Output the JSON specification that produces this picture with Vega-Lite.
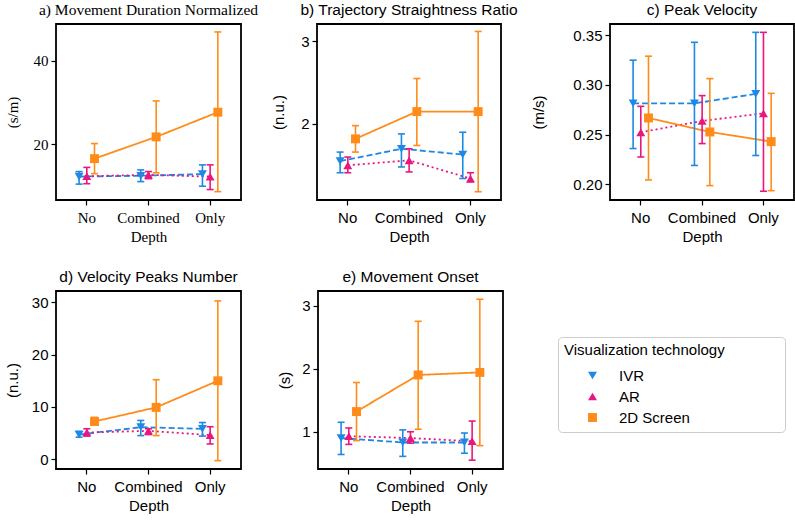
{
"$schema":"https://vega.github.io/schema/vega-lite/v6.json",
"padding":{"left":4,"top":1,"right":2,"bottom":5},
"background":"white",
"data":{"values":[
{"p":"a","depth":"No","tech":"IVR","m":12.3,"lo":10.5,"hi":13.5},
{"p":"a","depth":"Combined","tech":"IVR","m":12.5,"lo":11.1,"hi":13.9},
{"p":"a","depth":"Only","tech":"IVR","m":12.9,"lo":10.0,"hi":15.1},
{"p":"a","depth":"No","tech":"AR","m":12.4,"lo":10.6,"hi":14.5},
{"p":"a","depth":"Combined","tech":"AR","m":12.7,"lo":11.8,"hi":13.5},
{"p":"a","depth":"Only","tech":"AR","m":12.3,"lo":9.2,"hi":15.1},
{"p":"a","depth":"No","tech":"2D Screen","m":16.6,"lo":13.0,"hi":20.2},
{"p":"a","depth":"Combined","tech":"2D Screen","m":21.8,"lo":13.2,"hi":30.4},
{"p":"a","depth":"Only","tech":"2D Screen","m":27.7,"lo":8.7,"hi":46.9},
{"p":"b","depth":"No","tech":"IVR","m":1.55,"lo":1.41,"hi":1.66},
{"p":"b","depth":"Combined","tech":"IVR","m":1.70,"lo":1.48,"hi":1.88},
{"p":"b","depth":"Only","tech":"IVR","m":1.63,"lo":1.34,"hi":1.90},
{"p":"b","depth":"No","tech":"AR","m":1.50,"lo":1.41,"hi":1.60},
{"p":"b","depth":"Combined","tech":"AR","m":1.56,"lo":1.42,"hi":1.70},
{"p":"b","depth":"Only","tech":"AR","m":1.34,"lo":1.30,"hi":1.41},
{"p":"b","depth":"No","tech":"2D Screen","m":1.82,"lo":1.66,"hi":1.98},
{"p":"b","depth":"Combined","tech":"2D Screen","m":2.15,"lo":1.74,"hi":2.55},
{"p":"b","depth":"Only","tech":"2D Screen","m":2.15,"lo":1.18,"hi":3.12},
{"p":"c","depth":"No","tech":"IVR","m":0.2815,"lo":0.236,"hi":0.325},
{"p":"c","depth":"Combined","tech":"IVR","m":0.2815,"lo":0.219,"hi":0.343},
{"p":"c","depth":"Only","tech":"IVR","m":0.291,"lo":0.229,"hi":0.353},
{"p":"c","depth":"No","tech":"AR","m":0.2524,"lo":0.2275,"hi":0.2785},
{"p":"c","depth":"Combined","tech":"AR","m":0.2638,"lo":0.241,"hi":0.2893},
{"p":"c","depth":"Only","tech":"AR","m":0.2715,"lo":0.193,"hi":0.353},
{"p":"c","depth":"No","tech":"2D Screen","m":0.2668,"lo":0.2044,"hi":0.329},
{"p":"c","depth":"Combined","tech":"2D Screen","m":0.2527,"lo":0.1987,"hi":0.3064},
{"p":"c","depth":"Only","tech":"2D Screen","m":0.243,"lo":0.1936,"hi":0.2916},
{"p":"d","depth":"No","tech":"IVR","m":4.7,"lo":4.2,"hi":5.3},
{"p":"d","depth":"Combined","tech":"IVR","m":6.1,"lo":4.5,"hi":7.4},
{"p":"d","depth":"Only","tech":"IVR","m":5.8,"lo":4.4,"hi":7.0},
{"p":"d","depth":"No","tech":"AR","m":5.1,"lo":4.4,"hi":5.8},
{"p":"d","depth":"Combined","tech":"AR","m":5.4,"lo":4.7,"hi":5.8},
{"p":"d","depth":"Only","tech":"AR","m":4.6,"lo":2.9,"hi":6.2},
{"p":"d","depth":"No","tech":"2D Screen","m":7.2,"lo":6.6,"hi":8.0},
{"p":"d","depth":"Combined","tech":"2D Screen","m":9.9,"lo":4.5,"hi":15.2},
{"p":"d","depth":"Only","tech":"2D Screen","m":15.0,"lo":-0.3,"hi":30.3},
{"p":"e","depth":"No","tech":"IVR","m":0.90,"lo":0.64,"hi":1.15},
{"p":"e","depth":"Combined","tech":"IVR","m":0.83,"lo":0.61,"hi":1.03},
{"p":"e","depth":"Only","tech":"IVR","m":0.83,"lo":0.66,"hi":0.98},
{"p":"e","depth":"No","tech":"AR","m":0.93,"lo":0.80,"hi":1.06},
{"p":"e","depth":"Combined","tech":"AR","m":0.90,"lo":0.82,"hi":1.00},
{"p":"e","depth":"Only","tech":"AR","m":0.85,"lo":0.55,"hi":1.17},
{"p":"e","depth":"No","tech":"2D Screen","m":1.32,"lo":0.86,"hi":1.78},
{"p":"e","depth":"Combined","tech":"2D Screen","m":1.90,"lo":1.04,"hi":2.75},
{"p":"e","depth":"Only","tech":"2D Screen","m":1.94,"lo":0.78,"hi":3.10}
]},
"spacing":23,
"vconcat":[
{"spacing":11,"hconcat":[
{"width":185,"height":176,
"title":{"text":"a) Movement Duration Normalized","font":"Liberation Serif"},
"transform":[{"filter":"datum.p==='a'"}],
"encoding":{
"x":{"field":"depth","type":"nominal","sort":["No","Combined","Only"],"scale":{"paddingInner":0,"paddingOuter":0},"axis":{"title":"Depth","labelPadding":5,"labelFont":"Liberation Serif","titleFont":"Liberation Serif"}},
"xOffset":{"field":"tech","type":"nominal","sort":["IVR","AR","2D Screen"],"scale":{"type":"point","padding":0,"range":[23.1,38.5]}},
"color":{"field":"tech","type":"nominal","scale":{"domain":["IVR","AR","2D Screen"],"range":["#1e88e5","#e8177f","#ff8c1a"]},"legend":{"title":"Visualization technology\u00a0\u00a0\u00a0\u00a0\u00a0\u00a0\u00a0\u00a0\u00a0\u00a0\u00a0\u00a0\u00a0\u200b"}}
},
"layer":[
{"mark":{"type":"line","strokeWidth":1.8},"encoding":{"y":{"field":"m","type":"quantitative","scale":{"domain":[6.7,48.8],"nice":false,"zero":false},"axis":{"title":"(s/m)","values":[20,40],"format":"d","titlePadding":13,"labelFont":"Liberation Serif","titleFont":"Liberation Serif"}},"strokeDash":{"field":"tech","type":"nominal","scale":{"domain":["IVR","AR","2D Screen"],"range":[[6,3],[2,3],[1,0]]},"legend":null}}},
{"mark":{"type":"rule","strokeWidth":1.6},"encoding":{"y":{"field":"lo","type":"quantitative","scale":{"domain":[6.7,48.8],"nice":false,"zero":false}},"y2":{"field":"hi"}}},
{"mark":{"type":"tick","thickness":1.6,"size":7,"opacity":1},"encoding":{"y":{"field":"lo","type":"quantitative","scale":{"domain":[6.7,48.8],"nice":false,"zero":false}}}},
{"mark":{"type":"tick","thickness":1.6,"size":7,"opacity":1},"encoding":{"y":{"field":"hi","type":"quantitative","scale":{"domain":[6.7,48.8],"nice":false,"zero":false}}}},
{"mark":{"type":"point","filled":true,"size":80,"opacity":1},"encoding":{"y":{"field":"m","type":"quantitative","scale":{"domain":[6.7,48.8],"nice":false,"zero":false}},"shape":{"field":"tech","type":"nominal","scale":{"domain":["IVR","AR","2D Screen"],"range":["triangle-down","triangle-up","square"]},"legend":{"title":"Visualization technology\u00a0\u00a0\u00a0\u00a0\u00a0\u00a0\u00a0\u00a0\u00a0\u00a0\u00a0\u00a0\u00a0\u200b"}}}}
]},
{"width":184,"height":176,
"title":{"text":"b) Trajectory Straightness Ratio"},
"transform":[{"filter":"datum.p==='b'"}],
"encoding":{
"x":{"field":"depth","type":"nominal","sort":["No","Combined","Only"],"scale":{"paddingInner":0,"paddingOuter":0},"axis":{"title":"Depth","labelPadding":5}},
"xOffset":{"field":"tech","type":"nominal","sort":["IVR","AR","2D Screen"],"scale":{"type":"point","padding":0,"range":[23,38.3]}},
"color":{"field":"tech","type":"nominal","scale":{"domain":["IVR","AR","2D Screen"],"range":["#1e88e5","#e8177f","#ff8c1a"]},"legend":{"title":"Visualization technology\u00a0\u00a0\u00a0\u00a0\u00a0\u00a0\u00a0\u00a0\u00a0\u00a0\u00a0\u00a0\u00a0\u200b"}}
},
"layer":[
{"mark":{"type":"line","strokeWidth":1.8},"encoding":{"y":{"field":"m","type":"quantitative","scale":{"domain":[1.08,3.21],"nice":false,"zero":false},"axis":{"title":"(n.u.)","values":[2,3],"format":"d","titlePadding":14}},"strokeDash":{"field":"tech","type":"nominal","scale":{"domain":["IVR","AR","2D Screen"],"range":[[6,3],[2,3],[1,0]]},"legend":null}}},
{"mark":{"type":"rule","strokeWidth":1.6},"encoding":{"y":{"field":"lo","type":"quantitative","scale":{"domain":[1.08,3.21],"nice":false,"zero":false}},"y2":{"field":"hi"}}},
{"mark":{"type":"tick","thickness":1.6,"size":7,"opacity":1},"encoding":{"y":{"field":"lo","type":"quantitative","scale":{"domain":[1.08,3.21],"nice":false,"zero":false}}}},
{"mark":{"type":"tick","thickness":1.6,"size":7,"opacity":1},"encoding":{"y":{"field":"hi","type":"quantitative","scale":{"domain":[1.08,3.21],"nice":false,"zero":false}}}},
{"mark":{"type":"point","filled":true,"size":80,"opacity":1},"encoding":{"y":{"field":"m","type":"quantitative","scale":{"domain":[1.08,3.21],"nice":false,"zero":false}},"shape":{"field":"tech","type":"nominal","scale":{"domain":["IVR","AR","2D Screen"],"range":["triangle-down","triangle-up","square"]},"legend":{"title":"Visualization technology\u00a0\u00a0\u00a0\u00a0\u00a0\u00a0\u00a0\u00a0\u00a0\u00a0\u00a0\u00a0\u00a0\u200b"}}}}
]},
{"width":184,"height":176,
"title":{"text":"c) Peak Velocity"},
"transform":[{"filter":"datum.p==='c'"}],
"encoding":{
"x":{"field":"depth","type":"nominal","sort":["No","Combined","Only"],"scale":{"paddingInner":0,"paddingOuter":0},"axis":{"title":"Depth","labelPadding":5}},
"xOffset":{"field":"tech","type":"nominal","sort":["IVR","AR","2D Screen"],"scale":{"type":"point","padding":0,"range":[23,38.3]}},
"color":{"field":"tech","type":"nominal","scale":{"domain":["IVR","AR","2D Screen"],"range":["#1e88e5","#e8177f","#ff8c1a"]},"legend":{"title":"Visualization technology\u00a0\u00a0\u00a0\u00a0\u00a0\u00a0\u00a0\u00a0\u00a0\u00a0\u00a0\u00a0\u00a0\u200b"}}
},
"layer":[
{"mark":{"type":"line","strokeWidth":1.8},"encoding":{"y":{"field":"m","type":"quantitative","scale":{"domain":[0.1842,0.3614],"nice":false,"zero":false},"axis":{"title":"(m/s)","values":[0.2,0.25,0.3,0.35],"format":".2f","titlePadding":26}},"strokeDash":{"field":"tech","type":"nominal","scale":{"domain":["IVR","AR","2D Screen"],"range":[[6,3],[2,3],[1,0]]},"legend":null}}},
{"mark":{"type":"rule","strokeWidth":1.6},"encoding":{"y":{"field":"lo","type":"quantitative","scale":{"domain":[0.1842,0.3614],"nice":false,"zero":false}},"y2":{"field":"hi"}}},
{"mark":{"type":"tick","thickness":1.6,"size":7,"opacity":1},"encoding":{"y":{"field":"lo","type":"quantitative","scale":{"domain":[0.1842,0.3614],"nice":false,"zero":false}}}},
{"mark":{"type":"tick","thickness":1.6,"size":7,"opacity":1},"encoding":{"y":{"field":"hi","type":"quantitative","scale":{"domain":[0.1842,0.3614],"nice":false,"zero":false}}}},
{"mark":{"type":"point","filled":true,"size":80,"opacity":1},"encoding":{"y":{"field":"m","type":"quantitative","scale":{"domain":[0.1842,0.3614],"nice":false,"zero":false}},"shape":{"field":"tech","type":"nominal","scale":{"domain":["IVR","AR","2D Screen"],"range":["triangle-down","triangle-up","square"]},"legend":{"title":"Visualization technology\u00a0\u00a0\u00a0\u00a0\u00a0\u00a0\u00a0\u00a0\u00a0\u00a0\u00a0\u00a0\u00a0\u200b"}}}}
]}
]},
{"spacing":34,"hconcat":[
{"width":185,"height":178,
"title":{"text":"d) Velocity Peaks Number"},
"transform":[{"filter":"datum.p==='d'"}],
"encoding":{
"x":{"field":"depth","type":"nominal","sort":["No","Combined","Only"],"scale":{"paddingInner":0,"paddingOuter":0},"axis":{"title":"Depth","labelPadding":5}},
"xOffset":{"field":"tech","type":"nominal","sort":["IVR","AR","2D Screen"],"scale":{"type":"point","padding":0,"range":[23.1,38.5]}},
"color":{"field":"tech","type":"nominal","scale":{"domain":["IVR","AR","2D Screen"],"range":["#1e88e5","#e8177f","#ff8c1a"]},"legend":{"title":"Visualization technology\u00a0\u00a0\u00a0\u00a0\u00a0\u00a0\u00a0\u00a0\u00a0\u00a0\u00a0\u00a0\u00a0\u200b"}}
},
"layer":[
{"mark":{"type":"line","strokeWidth":1.8},"encoding":{"y":{"field":"m","type":"quantitative","scale":{"domain":[-1.9,32.2],"nice":false,"zero":false},"axis":{"title":"(n.u.)","values":[0,10,20,30],"format":"d","titlePadding":11}},"strokeDash":{"field":"tech","type":"nominal","scale":{"domain":["IVR","AR","2D Screen"],"range":[[6,3],[2,3],[1,0]]},"legend":null}}},
{"mark":{"type":"rule","strokeWidth":1.6},"encoding":{"y":{"field":"lo","type":"quantitative","scale":{"domain":[-1.9,32.2],"nice":false,"zero":false}},"y2":{"field":"hi"}}},
{"mark":{"type":"tick","thickness":1.6,"size":7,"opacity":1},"encoding":{"y":{"field":"lo","type":"quantitative","scale":{"domain":[-1.9,32.2],"nice":false,"zero":false}}}},
{"mark":{"type":"tick","thickness":1.6,"size":7,"opacity":1},"encoding":{"y":{"field":"hi","type":"quantitative","scale":{"domain":[-1.9,32.2],"nice":false,"zero":false}}}},
{"mark":{"type":"point","filled":true,"size":80,"opacity":1},"encoding":{"y":{"field":"m","type":"quantitative","scale":{"domain":[-1.9,32.2],"nice":false,"zero":false}},"shape":{"field":"tech","type":"nominal","scale":{"domain":["IVR","AR","2D Screen"],"range":["triangle-down","triangle-up","square"]},"legend":{"title":"Visualization technology\u00a0\u00a0\u00a0\u00a0\u00a0\u00a0\u00a0\u00a0\u00a0\u00a0\u00a0\u00a0\u00a0\u200b"}}}}
]},
{"width":185,"height":178,
"title":{"text":"e) Movement Onset"},
"transform":[{"filter":"datum.p==='e'"}],
"encoding":{
"x":{"field":"depth","type":"nominal","sort":["No","Combined","Only"],"scale":{"paddingInner":0,"paddingOuter":0},"axis":{"title":"Depth","labelPadding":5}},
"xOffset":{"field":"tech","type":"nominal","sort":["IVR","AR","2D Screen"],"scale":{"type":"point","padding":0,"range":[23.1,38.5]}},
"color":{"field":"tech","type":"nominal","scale":{"domain":["IVR","AR","2D Screen"],"range":["#1e88e5","#e8177f","#ff8c1a"]},"legend":{"title":"Visualization technology\u00a0\u00a0\u00a0\u00a0\u00a0\u00a0\u00a0\u00a0\u00a0\u00a0\u00a0\u00a0\u00a0\u200b"}}
},
"layer":[
{"mark":{"type":"line","strokeWidth":1.8},"encoding":{"y":{"field":"m","type":"quantitative","scale":{"domain":[0.41,3.23],"nice":false,"zero":false},"axis":{"title":"(s)","values":[1,2,3],"format":"d","titlePadding":9}},"strokeDash":{"field":"tech","type":"nominal","scale":{"domain":["IVR","AR","2D Screen"],"range":[[6,3],[2,3],[1,0]]},"legend":null}}},
{"mark":{"type":"rule","strokeWidth":1.6},"encoding":{"y":{"field":"lo","type":"quantitative","scale":{"domain":[0.41,3.23],"nice":false,"zero":false}},"y2":{"field":"hi"}}},
{"mark":{"type":"tick","thickness":1.6,"size":7,"opacity":1},"encoding":{"y":{"field":"lo","type":"quantitative","scale":{"domain":[0.41,3.23],"nice":false,"zero":false}}}},
{"mark":{"type":"tick","thickness":1.6,"size":7,"opacity":1},"encoding":{"y":{"field":"hi","type":"quantitative","scale":{"domain":[0.41,3.23],"nice":false,"zero":false}}}},
{"mark":{"type":"point","filled":true,"size":80,"opacity":1},"encoding":{"y":{"field":"m","type":"quantitative","scale":{"domain":[0.41,3.23],"nice":false,"zero":false}},"shape":{"field":"tech","type":"nominal","scale":{"domain":["IVR","AR","2D Screen"],"range":["triangle-down","triangle-up","square"]},"legend":{"title":"Visualization technology\u00a0\u00a0\u00a0\u00a0\u00a0\u00a0\u00a0\u00a0\u00a0\u00a0\u00a0\u00a0\u00a0\u200b"}}}}
]}
]}
],
"config":{
"font":"Liberation Sans",
"view":{"stroke":"#000000","strokeWidth":1.8},
"title":{"fontSize":15.5,"fontWeight":"normal","font":"Liberation Sans","color":"#000000","offset":6,"anchor":"middle"},
"axis":{"labelAngle":0,"domain":false,"grid":false,"tickColor":"#000000","tickSize":5,"tickWidth":1.2,"labelFontSize":15,"titleFontSize":15,"titleFontWeight":"normal","labelColor":"#000000","titleColor":"#000000","labelPadding":3,"labelFont":"Liberation Sans","titleFont":"Liberation Sans"},
"legend":{"orient":"none","legendX":502,"legendY":313,"titleFontSize":15,"labelFontSize":15,"titleFontWeight":"normal","titleColor":"#000000","labelColor":"#000000","titleFont":"Liberation Sans","labelFont":"Liberation Sans","strokeColor":"#cccccc","cornerRadius":4,"padding":6,"fillColor":"white","symbolSize":80,"symbolOffset":21,"labelOffset":19,"rowPadding":5,"titlePadding":10,"symbolStrokeWidth":0,"titleLimit":400}
}
}
